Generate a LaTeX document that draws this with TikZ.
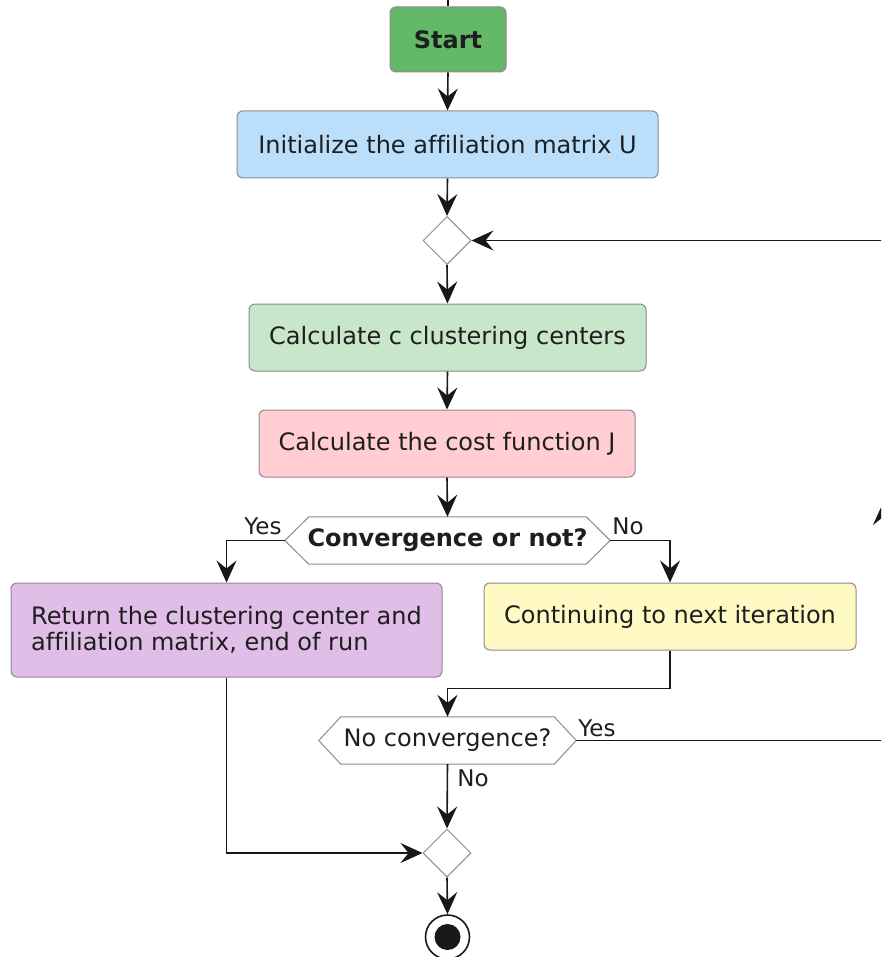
\documentclass[tikz,border=0pt]{standalone}
\usepackage{fontspec}
\setmainfont{DejaVu Sans}[Ligatures={NoCommon}]
\usetikzlibrary{arrows.meta,shapes.geometric}
\definecolor{cstart}{RGB}{99,185,104}
\definecolor{cinit}{RGB}{187,222,251}
\definecolor{ccalc}{RGB}{200,230,201}
\definecolor{ccost}{RGB}{255,205,210}
\definecolor{cret}{RGB}{225,190,231}
\definecolor{ccont}{RGB}{255,249,196}
\definecolor{cline}{RGB}{24,24,24}
\definecolor{cborder}{RGB}{140,140,140}
\definecolor{ctext}{RGB}{30,30,30}
\tikzset{
  box/.style={draw=cborder, line width=1pt, rounded corners=6pt, inner sep=0pt,
    text=ctext, font=\fontsize{24}{26}\selectfont},
  dec/.style={draw=cborder, line width=1pt, diamond, aspect=1, inner sep=0pt,
    minimum width=48pt, minimum height=48pt, fill=white},
  hexnode/.style={inner sep=0pt, text=ctext, font=\fontsize{24}{26}\selectfont},
  hexline/.style={draw=cborder, line width=1pt, line join=miter},
  conn/.style={draw=cline, line width=1.6pt},
  arr/.style={conn, -{Stealth[length=22pt, width=20pt, inset=8pt]}},
  lbl/.style={inner sep=0pt, text=ctext, font=\fontsize{23}{25}\selectfont},
}
\begin{document}
\begin{tikzpicture}[x=1pt, y=-1pt]
\useasboundingbox (0,0) rectangle (881,957);
\clip (0,0) rectangle (881,957);
\fill[white] (0,0) rectangle (881,957);

% nodes
\node[box, fill=cstart, minimum width=116pt, minimum height=65pt] (start) at (448,39.5) {\bfseries Start};
\node[box, fill=cinit, minimum width=421pt, minimum height=67pt] (init) at (447.5,144.5) {Initialize the affiliation matrix U};
\node[dec] (d1) at (447,240.5) {};
\node[box, fill=ccalc, minimum width=397pt, minimum height=67pt] (calc) at (447.5,337.5) {Calculate c clustering centers};
\node[box, fill=ccost, minimum width=376pt, minimum height=67pt] (cost) at (447,443.5) {Calculate the cost function J};
\node[hexnode, minimum width=325pt, minimum height=47pt] (hex1) at (447.5,540.5) {\bfseries Convergence or not?};
\node[box, fill=cret, minimum width=431pt, minimum height=94pt, align=left] (ret) at (226.5,630) {Return the clustering center and\\affiliation matrix, end of run};
\node[box, fill=ccont, minimum width=372pt, minimum height=67pt] (cont) at (670,616.5) {Continuing to next iteration};
\node[hexnode, minimum width=257pt, minimum height=47pt] (hex2) at (447.5,740.5) {No convergence?};
\node[dec] (d2) at (447,853) {};
\node[circle, draw=cline, line width=1.6pt, minimum size=44pt, inner sep=0pt] (endc) at (447.5,937) {};
\fill[cline] (endc.center) circle (13pt);

% hexagon outlines
\draw[hexline] (hex1.west) -- ([xshift=24pt]hex1.north west) -- ([xshift=-24pt]hex1.north east) -- (hex1.east) -- ([xshift=-24pt]hex1.south east) -- ([xshift=24pt]hex1.south west) -- cycle;
\draw[hexline] (hex2.west) -- ([xshift=22pt]hex2.north west) -- ([xshift=-22pt]hex2.north east) -- (hex2.east) -- ([xshift=-22pt]hex2.south east) -- ([xshift=22pt]hex2.south west) -- cycle;

% loop coordinates (outside the visible area on the right)
\coordinate (topin) at (448,-10);
\coordinate (loopbot) at (883,740.5);
\coordinate (looptop) at (883,240.5);
\coordinate (loopmid) at (883,503);
\coordinate (loopmidlow) at (883,560);

% connectors
\draw[conn] (topin) -- (start.north);
\draw[arr] (start.south) -- (init.north);
\draw[arr] (init.south) -- (d1.north);
\draw[arr] (d1.south) -- (calc.north);
\draw[arr] (calc.south) -- (cost.north);
\draw[arr] (cost.south) -- (hex1.north);
\draw[arr] (hex1.west) -| (ret.north);
\draw[arr] (hex1.east) -| (cont.north);
\draw[arr] (cont.south) -- ++(0,38) -| (hex2.north);
\draw[conn] (hex2.east) -- (loopbot) -- (looptop);
\draw[arr] (looptop) -- (d1.east);
\draw[arr] (loopmidlow) -- (loopmid);
\draw[arr] (hex2.south) -- (d2.north);
\draw[arr] (ret.south) |- (d2.west);
\draw[arr] (d2.south) -- (endc.north);

% labels
\node[lbl] (l1) at (263,526) {Yes};
\node[lbl] (l2) at (628,526) {No};
\node[lbl] (l3) at (597,728) {Yes};
\node[lbl] (l4) at (473,778) {No};
\end{tikzpicture}
\end{document}
